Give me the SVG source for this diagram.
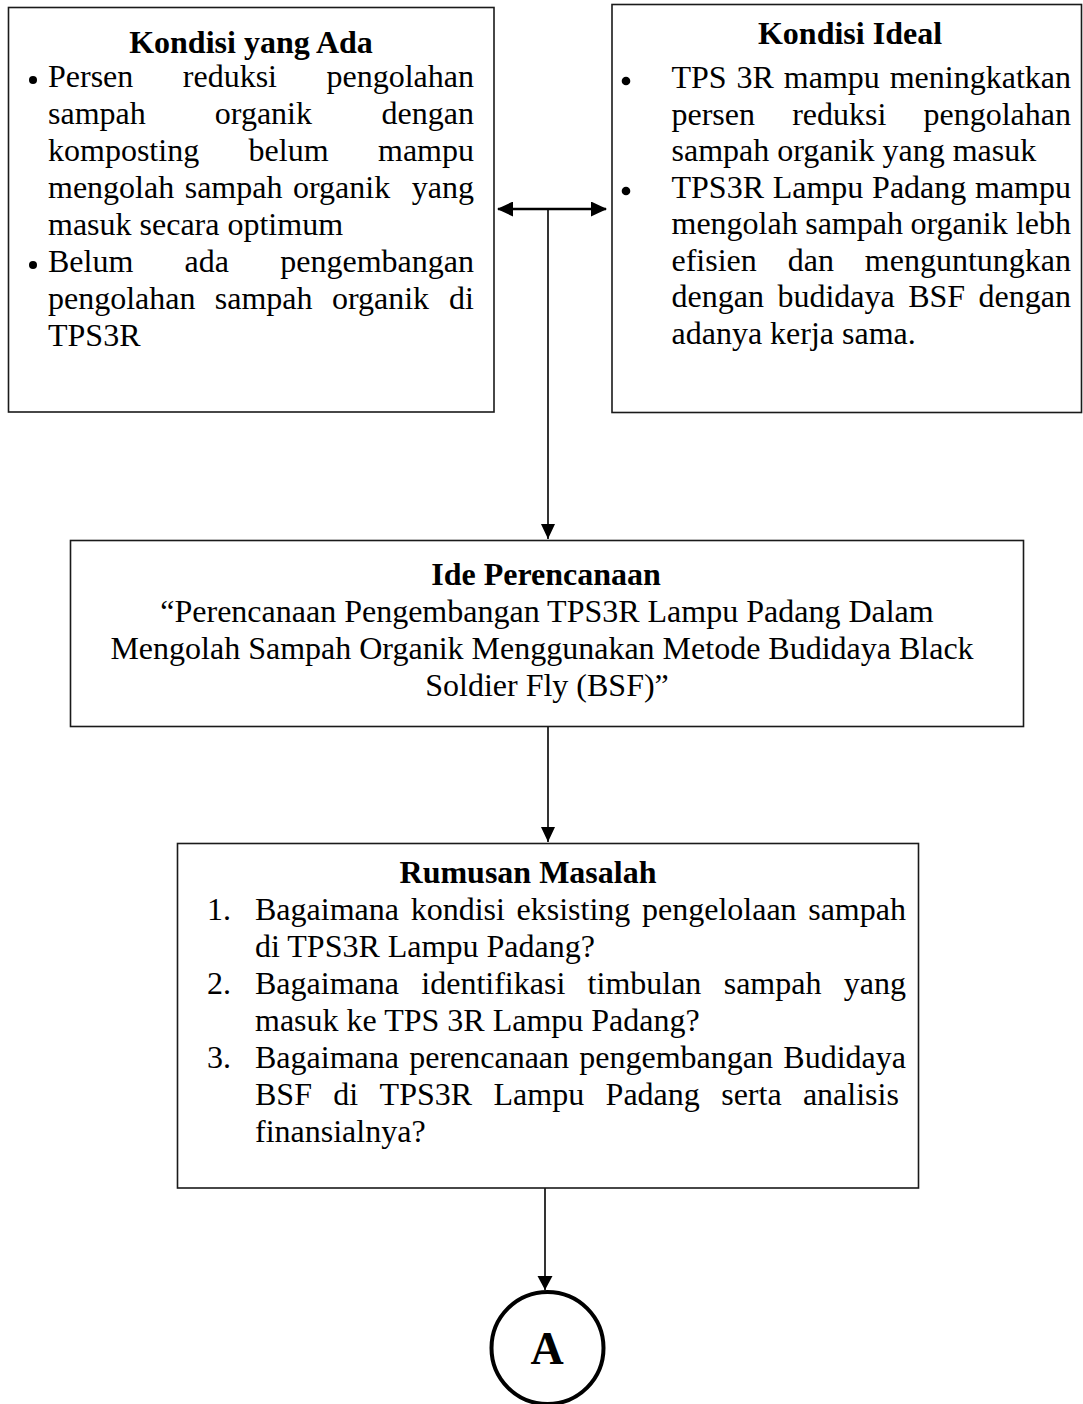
<svg xmlns="http://www.w3.org/2000/svg" width="1083" height="1404" viewBox="0 0 1083 1404">
  <style>
    .box { fill: #ffffff; stroke: #1a1a1a; stroke-width: 1.6; }
    .t { font-family: "Liberation Serif", "Times New Roman", serif; font-size: 32px; fill: #000000; }
    .h { font-weight: bold; text-anchor: middle; }
    .c { text-anchor: middle; }
    .bullet { fill: #000000; }
    .link { fill: none; stroke: #000000; stroke-width: 1.6; }
    .link-bold { fill: none; stroke: #000000; stroke-width: 2.6; }
  </style>
  <defs>
    <marker id="head-h" markerUnits="userSpaceOnUse" markerWidth="16" markerHeight="15" refX="15" refY="7.5" orient="auto-start-reverse">
      <path d="M0,0 L16,7.5 L0,15 Z" fill="#000000"/>
    </marker>
  </defs>

  <!-- connectors -->
  <g id="connectors">
    <line class="link-bold" x1="498" y1="209" x2="606" y2="209" marker-start="url(#head-h)" marker-end="url(#head-h)"/>
    <line class="link" x1="548" y1="209" x2="548" y2="539"/>
    <path d="M548,539 l-7,-15 l14,0 Z" fill="#000000"/>
    <line class="link" x1="548" y1="727" x2="548" y2="842"/>
    <path d="M548,842 l-7,-15 l14,0 Z" fill="#000000"/>
    <line class="link" x1="545" y1="1188" x2="545" y2="1290"/>
    <path d="M545,1290 l-7.5,-14 l15,0 Z" fill="#000000"/>
  </g>

  <!-- current condition -->
  <g id="kondisi-ada">
    <rect class="box" x="8.5" y="7.5" width="485.5" height="404.5"/>
    <text class="t h" x="251" y="53">Kondisi yang Ada</text>
    <circle class="bullet" cx="33" cy="80" r="4"/>
    <text class="t" y="87"><tspan x="48">Persen</tspan><tspan x="182.8">reduksi</tspan><tspan x="326.5">pengolahan</tspan></text>
    <text class="t" y="124"><tspan x="48">sampah</tspan><tspan x="214.8">organik</tspan><tspan x="381.6">dengan</tspan></text>
    <text class="t" y="161"><tspan x="48">komposting</tspan><tspan x="248.6">belum</tspan><tspan x="378">mampu</tspan></text>
    <text class="t" y="198"><tspan x="48">mengolah</tspan><tspan x="184.7">sampah</tspan><tspan x="293">organik</tspan><tspan x="411.8">yang</tspan></text>
    <text class="t" x="48" y="235">masuk secara optimum</text>
    <circle class="bullet" cx="33" cy="265" r="4"/>
    <text class="t" y="272"><tspan x="48">Belum</tspan><tspan x="184.6">ada</tspan><tspan x="280.3">pengembangan</tspan></text>
    <text class="t" y="309"><tspan x="48">pengolahan</tspan><tspan x="214.8">sampah</tspan><tspan x="331.9">organik</tspan><tspan x="449.1">di</tspan></text>
    <text class="t" x="48" y="346">TPS3R</text>
  </g>

  <!-- ideal condition -->
  <g id="kondisi-ideal">
    <rect class="box" x="612" y="4.5" width="469.5" height="408"/>
    <text class="t h" x="850" y="44">Kondisi Ideal</text>
    <circle class="bullet" cx="626" cy="81" r="4.3"/>
    <text class="t" y="88"><tspan x="671.5">TPS</tspan><tspan x="736.5">3R</tspan><tspan x="783.8">mampu</tspan><tspan x="889.7">meningkatkan</tspan></text>
    <text class="t" y="124.5"><tspan x="671.5">persen</tspan><tspan x="792.2">reduksi</tspan><tspan x="923.5">pengolahan</tspan></text>
    <text class="t" x="671.5" y="161">sampah organik yang masuk</text>
    <circle class="bullet" cx="626" cy="191" r="4.3"/>
    <text class="t" y="197.5"><tspan x="671.5">TPS3R</tspan><tspan x="772.7">Lampu</tspan><tspan x="872.1">Padang</tspan><tspan x="975">mampu</tspan></text>
    <text class="t" y="234"><tspan x="671.5">mengolah</tspan><tspan x="805.2">sampah</tspan><tspan x="910.5">organik</tspan><tspan x="1015.9">lebh</tspan></text>
    <text class="t" y="270.5"><tspan x="671.5">efisien</tspan><tspan x="787.7">dan</tspan><tspan x="864.8">menguntungkan</tspan></text>
    <text class="t" y="307"><tspan x="671.5">dengan</tspan><tspan x="777.4">budidaya</tspan><tspan x="908.2">BSF</tspan><tspan x="978.6">dengan</tspan></text>
    <text class="t" x="671.5" y="343.5">adanya kerja sama.</text>
  </g>

  <!-- planning idea -->
  <g id="ide-perencanaan">
    <rect class="box" x="70.5" y="540.5" width="953" height="186"/>
    <text class="t h" x="546" y="585">Ide Perencanaan</text>
    <text class="t c" x="547" y="622">“Perencanaan Pengembangan TPS3R Lampu Padang Dalam</text>
    <text class="t c" x="542" y="659">Mengolah Sampah Organik Menggunakan Metode Budidaya Black</text>
    <text class="t c" x="547" y="696">Soldier Fly (BSF)”</text>
  </g>

  <!-- problem statements -->
  <g id="rumusan-masalah">
    <rect class="box" x="177.5" y="843.5" width="741" height="344.5"/>
    <text class="t h" x="528" y="883">Rumusan Masalah</text>
    <text class="t" x="207" y="920">1.</text>
    <text class="t" y="920"><tspan x="255">Bagaimana</tspan><tspan x="410.7">kondisi</tspan><tspan x="516.5">eksisting</tspan><tspan x="642">pengelolaan</tspan><tspan x="808.2">sampah</tspan></text>
    <text class="t" x="255" y="957">di TPS3R Lampu Padang?</text>
    <text class="t" x="207" y="994">2.</text>
    <text class="t" y="994"><tspan x="255">Bagaimana</tspan><tspan x="421.3">identifikasi</tspan><tspan x="587.6">timbulan</tspan><tspan x="723.7">sampah</tspan><tspan x="843.8">yang</tspan></text>
    <text class="t" x="255" y="1031">masuk ke TPS 3R Lampu Padang?</text>
    <text class="t" x="207" y="1068">3.</text>
    <text class="t" y="1068"><tspan x="255">Bagaimana</tspan><tspan x="409.2">perencanaan</tspan><tspan x="579.3">pengembangan</tspan><tspan x="783.3">Budidaya</tspan></text>
    <text class="t" y="1105"><tspan x="255">BSF</tspan><tspan x="333.3">di</tspan><tspan x="379.6">TPS3R</tspan><tspan x="493.5">Lampu</tspan><tspan x="605.6">Padang</tspan><tspan x="721.2">serta</tspan><tspan x="802.9">analisis</tspan></text>
    <text class="t" x="255" y="1142">finansialnya?</text>
  </g>

  <!-- off-page connector -->
  <g id="connector-a">
    <circle cx="547.5" cy="1348" r="56" fill="#ffffff" stroke="#000000" stroke-width="4"/>
    <text class="t h" x="547" y="1364" style="font-size:46px">A</text>
  </g>
</svg>
